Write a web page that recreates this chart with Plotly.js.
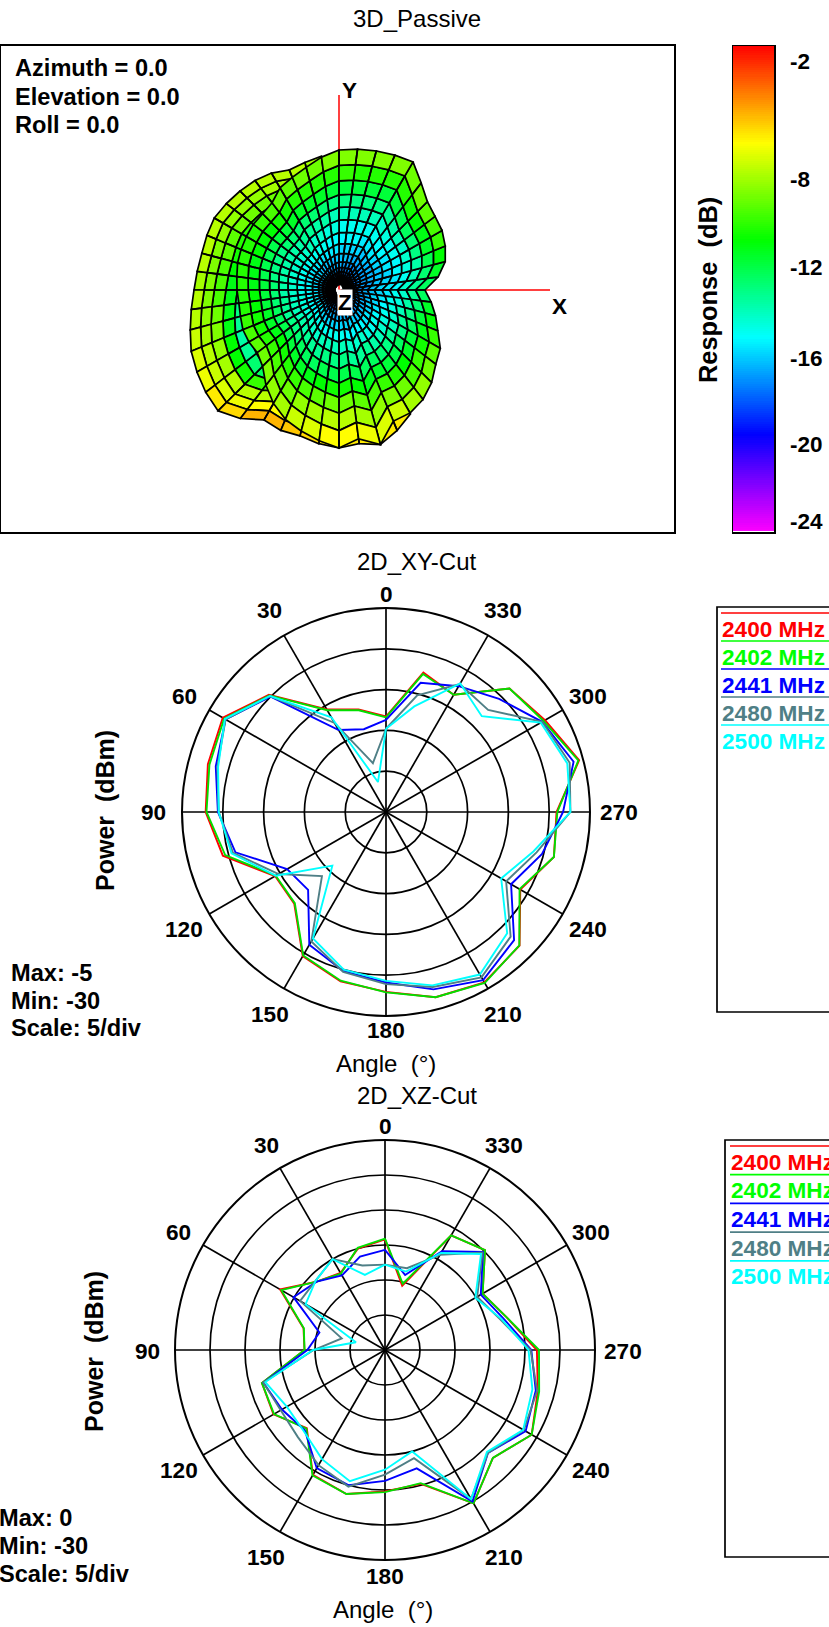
<!DOCTYPE html>
<html><head><meta charset="utf-8">
<script src="https://cdn.plot.ly/plotly-3.0.1.min.js"></script>
<style>html,body{margin:0;padding:0;background:#fff}#g{width:829px;height:1627px}</style>
</head><body><div id="g"></div>
<script>
const W=829,H=1627,FONT='"Liberation Sans",Arial,sans-serif';
// ---------- polar cut data (dB, every 15 degrees, counter-clockwise from top)
const angles=[0,15,30,45,60,75,90,105,120,135,150,165,180,195,210,225,240,255,270,285,300,315,330,345];
const freqNames=['2400 MHz','2402 MHz','2441 MHz','2480 MHz','2500 MHz'];
const lineColors=['#ff0000','#00e000','#0000ff','#4f7f86','#00ffff'];
const legendColors=['#ff0000','#00ff00','#0000ff','#4f7f86','#00ffff'];
const xy2400=[-18.3,-17.0,-15.5,-9.7,-6.9,-7.4,-7.9,-9.3,-14.3,-14.1,-9.6,-8.5,-7.95,-6.5,-5.9,-6.85,-11,-8.7,-9.1,-5.5,-7.5,-8.6,-13.4,-12.3];
const xy2402=[-18.4,-17.1,-15.6,-9.8,-7.1,-7.6,-8.0,-9.6,-14.4,-14.2,-9.7,-8.6,-7.9,-6.5,-5.8,-6.9,-11.1,-8.7,-9.0,-5.6,-7.7,-8.6,-13.4,-12.5];
const xy2441=[-18.7,-19.5,-18.4,-10,-7.3,-8.4,-9.4,-10.9,-16,-16.5,-11.2,-9.8,-9.1,-7.5,-6.2,-7.8,-12.3,-10.2,-8.3,-6.2,-7.9,-10.4,-12.2,-13.6];
const xy2480=[-19.8,-23.8,-17.4,-9.9,-7.3,-8.6,-9.5,-10.6,-14.8,-18.9,-11.7,-9.7,-8.9,-7.8,-6.6,-8.4,-13,-10.9,-7.4,-6.7,-7.9,-12.3,-11.9,-15.2];
const xy2500=[-19.8,-26.2,-16.6,-9.9,-7.2,-8.7,-9.5,-10.4,-14.4,-20.7,-12.1,-10,-9.3,-8,-7,-9,-13.7,-11.3,-7.4,-7,-8.1,-13.4,-11.8,-16.6];
const xz2400=[-14.2,-15,-17.3,-16.2,-12.7,-17.95,-18.5,-11.8,-11.6,-14.2,-9.4,-8.7,-9.8,-10.2,-4.7,-8.2,-5.8,-7.4,-8.3,-12,-13.9,-9.8,-11.1,-20.5];
const xz2402=[-14.1,-14.9,-17.4,-16.2,-12.9,-18,-18.5,-11.8,-11.7,-14.1,-9.3,-8.7,-9.7,-10.3,-4.7,-8.2,-5.8,-7.2,-8,-12,-13.9,-9.8,-11.1,-20.2];
const xz2441=[-15.7,-16.2,-17.7,-16.2,-14.9,-20.3,-18.9,-12,-13,-13.8,-10.5,-10,-11.3,-12.5,-5,-9.2,-6.8,-7.7,-9.1,-12.5,-14.2,-10.2,-13.7,-18.9];
const xz2480=[-17.8,-17.5,-15,-16,-16,-23.6,-19.8,-12,-12.8,-12.4,-11,-9.8,-12.2,-14,-5.4,-9.2,-7.1,-7.5,-9.2,-13,-14.8,-10.3,-14.3,-17.9];
const xz2500=[-17.8,-18.9,-15,-16,-16.9,-25.7,-19.7,-12.3,-13.8,-13.6,-12,-10.6,-12.9,-15,-5.4,-9.4,-7.2,-8.2,-9.5,-12.8,-15.1,-10.6,-14,-18.4];
const xySeries=[xy2400,xy2402,xy2441,xy2480,xy2500];
const xzSeries=[xz2400,xz2402,xz2441,xz2480,xz2500];
const tickAngles=[0,30,60,90,120,150,180,210,240,270,300,330];
// ---------- 3D pattern outline (projected radius, every 7.5 deg from +X counter-clockwise)
const frontRim=[86,100,110,115,119,121,125,135,148,146,144,142,140,134,127,122,118,110,108,108,107,106,105,103,102,101,102,104,104,103,108,120,131,140,146,152,158,150,160,142,142,138,131,122,117,107,100,93];
const frontRings=[.04,.07,.1,.13,.16,.2,.26,.33,.41,.5,.59,.68,.78,.89,1];
// response dB per ring (inner to outer), columns every 30 deg from +X
const frontDb=[
[-19,-19,-18.5,-18.5,-18,-18,-18,-18,-18,-19,-18.5,-19],
[-19,-18.5,-18.5,-18,-18,-18,-17.8,-17.8,-18,-18.5,-18.5,-18.5],
[-18.5,-18,-18,-18,-17.5,-17.5,-17.5,-17.5,-17.5,-18,-18,-18],
[-18,-18,-17.5,-17.5,-17,-17,-17,-17,-17,-17.5,-17.5,-17.5],
[-18,-17.5,-17.5,-17,-17,-16.8,-16.5,-16.5,-17,-17,-17,-17.5],
[-17.5,-17,-17,-16.5,-16.5,-16.3,-16,-16,-16.2,-16.5,-16.5,-17],
[-17,-17,-16.5,-16,-16,-15.8,-15.7,-15.5,-15.5,-15.6,-15.8,-16.3],
[-16.8,-16.5,-15.8,-15.6,-15.3,-15.3,-15.2,-15,-14.7,-14.5,-15,-15.8],
[-16.2,-16,-15.3,-15.2,-14.5,-14.8,-14.6,-14.3,-13.8,-13.5,-14,-15.2],
[-16,-15.5,-14.6,-14.5,-13.7,-14.2,-14,-13.6,-12.8,-12.5,-13,-14.5],
[-15.6,-15,-13.7,-13.7,-13,-13.5,-13.3,-12.8,-12,-11.2,-12,-13.7],
[-15,-13.7,-12.5,-12.3,-12,-12.5,-12.3,-11.7,-10.6,-9.3,-10.6,-12.7],
[-14.2,-12.1,-10.8,-10.8,-10.8,-11.3,-11.3,-10.5,-9.3,-7.8,-9.1,-11.3],
[-13.2,-10,-9,-8.8,-9.5,-10.3,-10.5,-9.7,-8.2,-6.5,-7.8,-10],
[-12,-8.6,-7.8,-7.6,-8.6,-9.6,-9.8,-9,-7.3,-5.3,-6.8,-8.8]];
// rear lobe outline every 7.5 deg, starting at 97.5 deg
const backRim=[135,132,130,135,138,140,142,144,143,142,143,145,149,154,160,164,168,171,162,150,152,151,155,158,155,160,152,143];
const backRings=[.62,.7,.78,.86,.93,1];
const backDb=[ // columns at 90,120,150,180,210,240,270,300 deg
[-12,-11,-11.5,-13,-14,-12,-9,-9],
[-11,-10.5,-11,-12,-13.5,-10.5,-8.5,-8.5],
[-9,-9,-9,-10,-8,-8,-7,-7],
[-8.5,-8,-8.5,-9,-7.2,-6.5,-6.5,-6.5],
[-8,-7.5,-7.5,-8,-6.8,-5.3,-6,-6],
[-7.5,-7,-7,-7.2,-6.3,-3.8,-5.5,-5.5]];
// colour bar
const barDb=[];for(let d=-1.4;d>=-24.5;d-=0.1)barDb.push(+d.toFixed(1));
const barLabels=[['-2',61],['-8',179],['-12',268],['-16',358],['-20',444],['-24',521]];
const DBTOP=-1.4,DBBOT=-24.5;
const stops=[[0,[255,0,0]],[.2,[255,255,0]],[.4,[0,255,0]],[.6,[0,255,255]],[.8,[0,0,255]],[1,[255,0,255]]];
function dbColor(db){
  let t=(DBTOP-db)/(DBTOP-DBBOT);t=Math.max(0,Math.min(1,t));
  for(let i=1;i<stops.length;i++) if(t<=stops[i][0]){
    const a=stops[i-1],b=stops[i],f=(t-a[0])/(b[0]-a[0]);
    return 'rgb('+a[1].map((v,k)=>Math.round(v+(b[1][k]-v)*f)).join(',')+')';
  }
  return 'rgb(255,0,255)';
}
const px=x=>x/W, py=y=>1-y/H;
const ORX=339,ORY=290;
const traces=[];
// ---------- axes of the 3D panel
traces.push({type:'scatter',mode:'lines',xaxis:'x',yaxis:'y',x:[0,211],y:[0,0],line:{color:'#ff0000',width:1.5},hoverinfo:'skip',showlegend:false});
traces.push({type:'scatter',mode:'lines',xaxis:'x',yaxis:'y',x:[0,0],y:[0,195],line:{color:'#ff0000',width:1.5},hoverinfo:'skip',showlegend:false});
function cellTraces(rim,startDeg,shares,dbAt,closed){
  const n=rim.length,bins={};
  const pt=(i,r)=>{const a=(startDeg+i*7.5)*Math.PI/180,R=rim[(i+n)%n]*r;return [R*Math.cos(a),R*Math.sin(a)];};
  const last=closed?n:n-1;
  for(let k=0;k<shares.length-1;k++)for(let i=0;i<last;i++){
    const db=dbAt(k,i+.5),key=Math.round(db*3);
    const b=bins[key]||(bins[key]={x:[],y:[],c:dbColor(key/3)});
    const p=[pt(i,shares[k]),pt(i+1,shares[k]),pt(i+1,shares[k+1]),pt(i,shares[k+1]),pt(i,shares[k])];
    p.forEach(q=>{b.x.push(q[0]);b.y.push(q[1]);});b.x.push(null);b.y.push(null);
  }
  Object.values(bins).forEach(b=>traces.push({type:'scatter',mode:'lines',xaxis:'x',yaxis:'y',x:b.x,y:b.y,fill:'toself',fillcolor:b.c,line:{color:'#000',width:1.7},hoverinfo:'skip',showlegend:false}));
}
function tableLookup(tab,row,col){
  const c0=Math.floor(col),f=col-c0,cols=tab[0].length;
  return tab[row][c0%cols]*(1-f)+tab[row][(c0+1)%cols]*f;
}
cellTraces(backRim,97.5,backRings,(k,i)=>{
  const ang=97.5+i*7.5,col=Math.max(0,Math.min(7,(ang-90)/30));
  return (tableLookup(backDb,k,col)+tableLookup(backDb,k+1,col))/2;
},false);
cellTraces(frontRim,0,frontRings,(k,i)=>{
  const col=(i*7.5)/30;
  return (tableLookup(frontDb,k,col)+tableLookup(frontDb,k+1,col))/2;
},true);
// ---------- colour bar
traces.push({type:'heatmap',xaxis:'x2',yaxis:'y2',x:[0,1],y:barDb,z:barDb.map(d=>[d,d]),zmin:DBBOT,zmax:DBTOP,showscale:false,hoverinfo:'skip',
  colorscale:stops.map(s=>[1-s[0],'rgb('+s[1].join(',')+')']).reverse()});
// ---------- polar cuts
function addPolar(series,sub){
  series.forEach((vals,i)=>traces.push({type:'scatterpolar',subplot:sub,mode:'lines',name:freqNames[i],
    r:vals.concat(vals[0]),theta:angles.concat(360),line:{color:lineColors[i],width:1.9},showlegend:false,hoverinfo:'skip'}));
}
addPolar(xySeries,'polar');
addPolar(xzSeries,'polar2');
function polarLayout(cx,cy,R,rmin,rmax){
  return {domain:{x:[px(cx-R),px(cx+R)],y:[py(cy+R),py(cy-R)]},bgcolor:'#fff',
    radialaxis:{range:[rmin,rmax],dtick:5,tick0:-30,showticklabels:false,ticks:'',showline:false,gridcolor:'#000',gridwidth:1.7,angle:90},
    angularaxis:{rotation:90,direction:'counterclockwise',tickmode:'array',tickvals:tickAngles,showticklabels:false,ticks:'',
      gridcolor:'#000',gridwidth:1.7,linecolor:'#000',linewidth:2,showline:true}};
}
// ---------- texts
const ann=[];
function T(text,x,y,o){ann.push(Object.assign({text:text,xref:'paper',yref:'paper',x:px(x),y:py(y),showarrow:false,xanchor:'center',yanchor:'middle',
  font:{family:FONT,size:22,color:'#000'}},o||{}));}
const bold=(c,s)=>({family:FONT,size:s||23.6,color:c||'#000',weight:700});
const plain={family:FONT,size:24,color:'#000'};
T('3D_Passive',417,18,{font:plain});
T('2D_XY-Cut',417,561,{font:plain});
T('2D_XZ-Cut',417,1095,{font:plain});
T('Angle&nbsp;&nbsp;(°)',386,1063,{font:plain});
T('Angle&nbsp;&nbsp;(°)',383,1609,{font:plain});
['Azimuth = 0.0','Elevation = 0.0','Roll = 0.0'].forEach((t,i)=>T(t,12.5,68+i*28.5,{xanchor:'left',font:bold()}));
T('Y',349,90,{font:bold('#000',22.5)});
T('X',559,306,{font:bold('#000',22.5)});
T('Z',345,303,{font:bold('#000',22.5),bgcolor:'#fff',borderpad:0});
T('Response&nbsp;&nbsp;(dB)',708,290,{textangle:-90,font:bold('#000',25.4)});
barLabels.forEach(l=>T(l[0],788,l[1],{font:bold('#000',22.5),xanchor:'left'}));
T('Power&nbsp;&nbsp;(dBm)',105,811,{textangle:-90,font:bold('#000',25)});
T('Power&nbsp;&nbsp;(dBm)',94,1352,{textangle:-90,font:bold('#000',25)});
['Max: -5','Min: -30','Scale: 5/div'].forEach((t,i)=>T(t,8.5,973+i*27.5,{xanchor:'left',font:bold()}));
['Max: 0','Min: -30','Scale: 5/div'].forEach((t,i)=>T(t,-3,1518+i*28,{xanchor:'left',font:bold()}));
function angleLabels(cx,cy,R,far,near,dy){
  tickAngles.forEach(a=>{
    const r=(a%180===0)?R+near:R+far,t=a*Math.PI/180;
    T(String(a),cx-r*Math.sin(t),cy-r*Math.cos(t)+dy,{font:bold('#000',22.6)});
  });
}
angleLabels(386,812,204,29,14,0.5);
angleLabels(385,1350,210,28,15,1.5);
// ---------- legend panels
const shapes=[];
function legend(x0,top,bottom,lineY,step,textX){
  shapes.push({type:'rect',xref:'paper',yref:'paper',x0:px(x0),x1:px(840),y0:py(bottom),y1:py(top),line:{color:'#000',width:1.7},fillcolor:'rgba(0,0,0,0)'});
  freqNames.forEach((n,i)=>{
    const y=lineY+i*step;
    shapes.push({type:'line',xref:'paper',yref:'paper',x0:px(textX+1),x1:px(830),y0:py(y),y1:py(y),line:{color:legendColors[i],width:1.7}});
    T(n,textX,y+16,{xanchor:'left',font:bold(legendColors[i],22.6)});
  });
}
legend(717,607,1012,613,28,720);
legend(725,1140,1557,1146,28.7,729);
const layout={width:W,height:H,margin:{l:0,r:0,t:0,b:0},paper_bgcolor:'#fff',plot_bgcolor:'#fff',showlegend:false,font:{family:FONT},
  xaxis:{domain:[px(1),px(674)],range:[1-ORX,674-ORX],showgrid:false,zeroline:false,showticklabels:false,ticks:'',showline:true,mirror:true,linecolor:'#000',linewidth:2,anchor:'y'},
  yaxis:{domain:[py(532),py(45.6)],range:[ORY-532,ORY-45.6],showgrid:false,zeroline:false,showticklabels:false,ticks:'',showline:true,mirror:true,linecolor:'#000',linewidth:2,anchor:'x'},
  xaxis2:{domain:[px(733),px(774)],range:[0,1],showgrid:false,zeroline:false,showticklabels:false,ticks:'',showline:true,mirror:true,linecolor:'#000',linewidth:1.5,anchor:'y2'},
  yaxis2:{domain:[py(532),py(46)],range:[DBBOT,DBTOP],showgrid:false,zeroline:false,showticklabels:false,ticks:'',showline:true,mirror:true,linecolor:'#000',linewidth:1.5,anchor:'x2'},
  polar:polarLayout(386,812,204,-30,-5),
  polar2:polarLayout(385,1350,210,-30,0),
  annotations:ann,shapes:shapes};
Plotly.newPlot('g',traces,layout,{displayModeBar:false,staticPlot:true});
</script></body></html>
